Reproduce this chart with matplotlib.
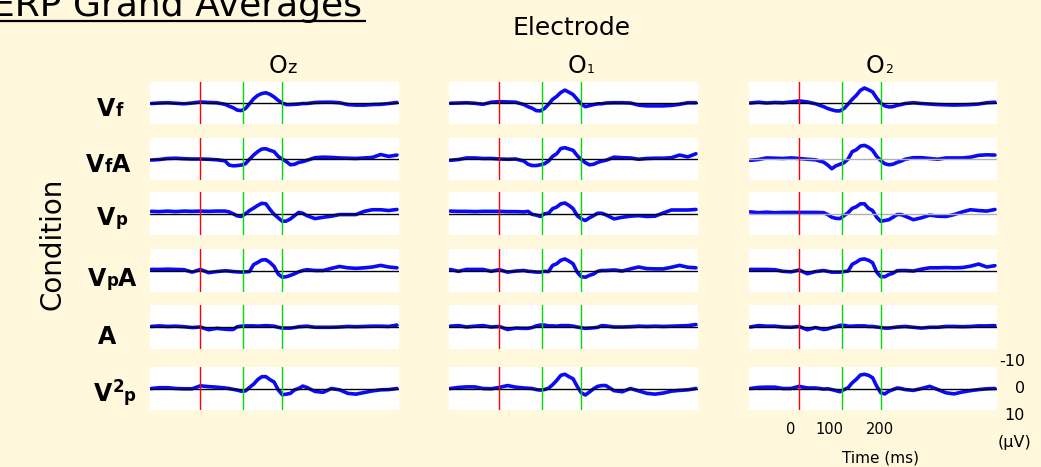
#!/usr/bin/env python3
"""
ERP Grand Averages
Grid of averaged waveforms: condition (rows) by occipital electrode (columns)
"""

import matplotlib
matplotlib.use('Agg')
import matplotlib.pyplot as plt
from matplotlib import transforms

# Sample times (ms) of every trace (denser around the evoked response)
TIMES = [-120, -100, -80, -60, -40, -20, 0, 20, 40, 60,
         70, 80, 90, 100, 110, 120, 130, 140, 150, 160,
         170, 180, 190, 200, 210, 220, 230, 240, 250, 260,
         280, 300, 320, 340, 360, 380, 400, 420, 440, 460, 480]

# Column / row names
ELECTRODES = [('O', 'z'), ('O', '1'), ('O', '2')]
CONDITIONS = ['Vf', 'VfA', 'Vp', 'VpA', 'A', 'V2p']

# Amplitudes in microvolts (plotted negative-up)
OZ_VF = [0.2, 0.0, -0.1, 0.1, 0.3, 0.0, -0.4, -0.2, -0.1, 0.5,
         1.2, 1.8, 2.7, 2.9, 2.1, 0.3, -1.6, -2.9, -3.6, -3.9,
         -3.3, -2.3, -1.0, 0.0, 0.6, 0.6, 0.5, 0.4, 0.2, 0.2,
         -0.2, -0.3, -0.3, -0.1, 0.6, 0.8, 0.8, 0.6, 0.5, 0.2, -0.2]
OZ_VFA = [0.4, 0.2, -0.2, -0.3, -0.1, 0.0, 0.0, 0.1, 0.3, 0.7,
          2.3, 2.6, 2.5, 2.3, 1.8, 0.1, -1.5, -2.8, -3.8, -3.9,
          -3.3, -2.8, -1.0, 0.0, 1.0, 2.2, 2.0, 1.3, 1.0, 0.5,
          -0.5, -0.7, -0.6, -0.4, -0.3, -0.2, -0.4, -0.6, -1.7, -1.0, -1.5]
OZ_VP = [-0.8, -0.7, -0.9, -0.7, -0.9, -0.8, -0.9, -0.8, -0.9, -0.9,
         -0.6, 0.1, 0.9, 1.1, 0.1, -1.1, -2.0, -3.0, -3.8, -3.6,
         -1.5, 0.3, 1.6, 2.9, 2.8, 2.0, 0.8, -0.4, -0.1, 0.8,
         1.9, 1.4, 1.0, 0.4, 0.4, 0.4, -0.8, -1.4, -1.4, -1.1, -1.5]
OZ_VPA = [-0.4, -0.4, -0.5, -0.4, -0.3, 0.6, -0.4, 0.8, 0.4, 0.1,
          0.2, 0.4, 0.5, 0.6, 0.5, 0.4, -2.2, -3.0, -3.9, -4.0,
          -3.0, -1.5, 1.3, 2.5, 2.3, 1.8, 1.2, 0.5, 0.0, -0.3,
          0.0, 0.0, -0.8, -1.5, -1.0, -0.8, -1.0, -1.3, -1.9, -1.3, -1.0]
OZ_A = [-0.2, -0.4, -0.2, -0.3, -0.1, 0.2, 0.0, 1.0, 0.5, 0.8,
        0.9, 0.9, -0.1, -0.3, -0.4, -0.4, -0.4, -0.3, -0.4, -0.5,
        -0.4, -0.3, 0.1, 0.4, 0.4, 0.4, 0.2, -0.1, -0.2, -0.3,
        0.1, 0.1, 0.1, 0.0, -0.2, -0.1, -0.2, -0.3, -0.3, -0.2, -0.7]
OZ_V2P = [0.0, -0.3, -0.3, 0.0, 0.1, 0.1, -1.0, -0.7, -0.5, -0.2,
          0.0, 0.3, 0.6, 1.0, 0.9, -0.4, -1.6, -3.3, -4.4, -4.4,
          -3.3, -2.4, 0.5, 2.3, 2.1, 1.8, 0.5, 0.0, -0.9, -0.4,
          1.1, 1.4, 0.0, 0.5, 1.8, 2.1, 1.5, 0.9, 0.5, 0.4, 0.0]

O1_VF = [0.1, 0.0, -0.1, 0.1, 0.5, -0.3, -0.5, -0.4, -0.3, 0.6,
         1.4, 2.0, 2.9, 3.0, 2.1, 0.5, -1.4, -2.5, -4.0, -4.9,
         -4.1, -3.2, -1.4, 0.4, 1.4, 1.0, 0.6, 0.3, 0.3, 0.0,
         -0.1, -0.1, 0.0, 0.8, 1.1, 1.1, 1.1, 0.9, 0.5, -0.1, -0.1]
O1_VFA = [0.5, 0.2, -0.4, -0.4, -0.2, -0.2, 0.0, 0.1, 0.0, 0.8,
          2.0, 2.5, 2.5, 2.2, 1.8, 0.8, -1.0, -2.0, -4.0, -4.3,
          -3.8, -3.3, -1.3, 0.2, 1.4, 2.2, 2.0, 1.3, 0.8, 0.5,
          -0.7, -0.5, -0.4, 0.1, -0.2, -0.3, -0.3, -0.5, -1.5, -0.8, -2.0]
O1_VP = [-0.9, -0.8, -0.8, -0.7, -0.8, -0.8, -0.8, -0.7, -0.7, -0.6,
         -0.8, 0.3, 0.6, 1.1, 0.1, -0.1, -1.8, -2.4, -3.6, -3.9,
         -3.0, -1.8, 0.8, 2.0, 2.6, 1.6, 0.8, -0.1, -0.1, 0.5,
         2.0, 1.4, 1.0, 0.8, 1.1, 1.0, -0.2, -1.3, -1.3, -1.3, -1.5]
O1_VPA = [-0.4, 0.3, -0.4, -0.4, -0.4, 0.3, -0.3, 0.6, 0.2, 0.0,
          0.3, 0.4, 0.6, 0.6, 0.3, 0.4, -1.9, -2.5, -3.8, -4.3,
          -3.5, -2.5, 0.6, 2.3, 2.5, 1.8, 1.3, 0.3, 0.0, 0.0,
          -0.2, 0.2, -0.6, -1.3, -0.7, -0.6, -0.6, -1.2, -1.9, -1.2, -1.0]
O1_A = [-0.3, -0.5, 0.0, -0.3, -0.5, 0.0, -0.2, 0.9, 0.4, 0.5,
        0.5, 0.2, -0.4, -0.7, -0.7, -0.4, -0.4, -0.3, -0.5, -0.5,
        -0.5, -0.3, 0.0, 0.3, 0.5, 0.4, 0.3, 0.1, -0.5, -0.4,
        0.0, 0.0, -0.1, -0.3, -0.2, -0.3, -0.2, -0.3, -0.4, -0.5, -0.9]
O1_V2P = [0.0, -0.4, -0.6, -0.6, 0.0, 0.1, -0.4, -1.1, -0.5, -0.2,
          -0.1, 0.0, 0.4, 0.6, 0.4, -0.1, -1.4, -3.0, -4.9, -5.3,
          -4.4, -3.6, -0.8, 1.6, 2.4, 1.3, 0.1, -0.8, -1.1, -1.1,
          0.8, 1.2, 0.0, 0.9, 1.8, 2.1, 1.7, 1.0, 0.7, 0.5, 0.0]

O2_VF = [0.0, -0.3, 0.0, -0.2, -0.1, -0.4, -0.8, -0.4, 0.3, 1.4,
         2.1, 2.6, 3.0, 3.0, 2.1, 0.4, -1.4, -2.9, -4.8, -5.7,
         -5.0, -4.2, -1.9, 0.0, 1.1, 1.5, 1.4, 0.9, 0.6, 0.2,
         -0.1, 0.2, 0.4, 0.6, 0.7, 0.8, 0.7, 0.6, 0.4, -0.1, -0.3]
O2_VFA = [0.5, 0.2, -0.4, -0.3, -0.2, -0.4, -0.2, 0.1, 0.3, 1.2,
          2.3, 3.7, 2.6, 2.0, 1.4, 0.0, -2.8, -3.5, -4.9, -5.2,
          -4.5, -3.3, -1.0, 0.6, 1.8, 2.2, 2.0, 1.3, 0.8, 0.1,
          -0.5, -0.5, -0.2, 0.1, -0.4, -0.4, -0.4, -0.7, -1.4, -1.6, -1.5]
O2_VP = [-0.6, -0.3, -0.5, -0.3, -0.4, -0.4, -0.4, -0.4, -0.4, -0.3,
         0.4, 1.4, 1.8, 1.9, 0.8, -0.3, -1.9, -2.5, -3.6, -3.6,
         -1.9, -1.1, 1.4, 2.9, 2.6, 2.3, 1.4, 0.4, 0.4, 1.0,
         2.3, 1.6, 0.6, 1.0, 1.1, 0.4, -0.6, -1.4, -1.1, -0.9, -1.5]
O2_VPA = [-0.4, -0.4, -0.4, -0.3, 0.3, 0.5, -0.2, 1.2, 0.4, 0.0,
          0.3, 0.6, 0.6, 0.6, 0.4, 0.2, -2.3, -3.1, -4.1, -4.3,
          -3.8, -2.9, 0.6, 2.3, 2.3, 1.5, 1.0, 0.1, 0.0, 0.0,
          0.2, -0.5, -1.0, -1.0, -1.1, -1.0, -1.1, -1.6, -2.4, -1.3, -1.8]
O2_A = [0.0, -0.5, -0.3, -0.3, 0.0, 0.1, -0.2, 1.0, 0.2, 0.9,
        0.7, 0.2, -0.1, -0.6, -0.6, -0.3, -0.3, -0.4, -0.4, -0.4,
        -0.2, -0.2, 0.0, 0.2, 0.4, 0.4, 0.2, 0.0, -0.1, -0.2,
        0.1, 0.4, 0.1, 0.1, -0.2, -0.2, -0.1, -0.2, -0.4, -0.4, -0.5]
O2_V2P = [0.0, -0.4, -0.5, -0.5, 0.0, 0.0, -0.8, -0.2, -0.2, 0.2,
          0.1, 0.4, 0.8, 1.2, 0.4, -0.3, -2.1, -3.4, -5.0, -5.3,
          -4.9, -4.0, -0.9, 1.6, 2.0, 1.0, 0.4, -0.2, 0.0, 0.4,
          0.7, 0.0, -0.8, 0.4, 1.6, 2.0, 1.3, 0.8, 0.4, 0.1, 0.0]

# Event markers (ms) drawn in every panel
MARKER_TIMES = [0, 105, 200]
MARKER_COLORS = ['#FF0000', '#00DD00', '#00DD00']

AMP_TICKS = [-10, 0, 10]
TIME_TICKS = ['0', '100', '200']

# rows x columns
GRID = [
    [OZ_VF, O1_VF, O2_VF],
    [OZ_VFA, O1_VFA, O2_VFA],
    [OZ_VP, O1_VP, O2_VP],
    [OZ_VPA, O1_VPA, O2_VPA],
    [OZ_A, O1_A, O2_A],
    [OZ_V2P, O1_V2P, O2_V2P],
]

# a couple of panels have a light grey baseline in the original slide
GREY_BASELINE = {(1, 2), (2, 2)}

W, H = 1041, 467
BG = '#FFF8DC'
TRACE_BLUE = '#0A0AF5'

# panel boxes in pixels
COL_X = [(150, 399), (449, 698), (749, 997)]
ROW_Y = [(82, 124), (138, 180), (192, 235), (249, 292), (305, 349), (367, 410)]


def draw_parts(lay, renderer, x, baseline, parts, weight='normal'):
    """Draw a label made of pieces of different size, left to right"""
    for text, size, rise in parts:
        t = lay.text(x, baseline - rise, text, fontsize=size, fontweight=weight,
                     ha='left', va='baseline', color='black')
        x += t.get_window_extent(renderer).width


def condition_parts(name):
    big, small = 17, 12
    if name == 'V2p':
        return [('V', big, 0), ('2', small, 9), ('p', small, 0)]
    return [(ch, big if ch in 'VA' else small, 0) for ch in name]


def create_chart(output_file='out.png'):
    plt.rcParams['font.family'] = ['DejaVu Sans']
    fig = plt.figure(figsize=(W / 100, H / 100), dpi=100, facecolor=BG)

    # pixel-space layer for all the slide text
    lay = fig.add_axes([0, 0, 1, 1])
    lay.set_xlim(0, W)
    lay.set_ylim(H, 0)
    lay.axis('off')
    renderer = fig.canvas.get_renderer()

    last_ax = None
    for r, row in enumerate(GRID):
        y0, y1 = ROW_Y[r]
        for c, values in enumerate(row):
            x0, x1 = COL_X[c]
            ax = fig.add_axes([x0 / W, 1 - y1 / H, (x1 - x0) / W, (y1 - y0) / H])
            ax.set_facecolor('white')
            ax.plot(TIMES, values, color=TRACE_BLUE, lw=2.6, zorder=2,
                    solid_joinstyle='round', solid_capstyle='round')
            base_col = '#B0B0B0' if (r, c) in GREY_BASELINE else 'black'
            ax.axhline(0, color=base_col, lw=1.0, zorder=3)
            for t, col in zip(MARKER_TIMES, MARKER_COLORS):
                ax.axvline(t, color=col, lw=1.0, zorder=4)
            ax.set_xlim(-123, 485)
            ax.set_ylim(8, -8)
            ax.set_xticks([])
            ax.set_yticks([])
            for s in ax.spines.values():
                s.set_visible(False)
            last_ax = ax

    # amplitude scale next to the bottom-right panel
    tr = transforms.blended_transform_factory(last_ax.transAxes, last_ax.transData)
    for v in AMP_TICKS:
        last_ax.text(1.113, v, str(v), transform=tr, ha='right', va='center',
                     fontsize=11.5, clip_on=False)
    last_ax.text(1.07, 20.0, '(\u00b5V)', transform=tr, ha='center', va='center',
                 fontsize=11.5, clip_on=False)

    # time scale under the bottom-right panel
    for x, lab in zip([791, 829, 880], TIME_TICKS):
        lay.text(x, 430, lab, ha='center', va='center', fontsize=10.5)
    lay.text(881, 458, 'Time (ms)', ha='center', va='center', fontsize=11)

    # title (runs off the top-left of the slide) with underline
    lay.text(-8, 16, 'ERP Grand Averages', fontsize=26, ha='left', va='baseline')
    lay.plot([0, 366], [21, 21], color='black', lw=1.6, solid_capstyle='butt')

    lay.text(572, 35, 'Electrode', fontsize=18, ha='center', va='baseline')
    lay.text(52, 244, 'Condition', fontsize=20, rotation=90, ha='center', va='center')

    col_left = [269, 568, 866]
    for (big, small), x in zip(ELECTRODES, col_left):
        sub_size = 13 if small.isalpha() else 9
        draw_parts(lay, renderer, x, 72.7, [(big, 17, 0), (small, sub_size, 0)])

    row_left = [97, 86, 97, 88, 98, 94]
    row_base = [116, 172, 225, 286, 344, 401]
    for name, x, y in zip(CONDITIONS, row_left, row_base):
        draw_parts(lay, renderer, x, y, condition_parts(name), weight='bold')

    plt.savefig(output_file, dpi=100, facecolor=BG)
    print(f"Chart saved as: {output_file}")


def main():
    create_chart('out.png')


if __name__ == "__main__":
    main()
